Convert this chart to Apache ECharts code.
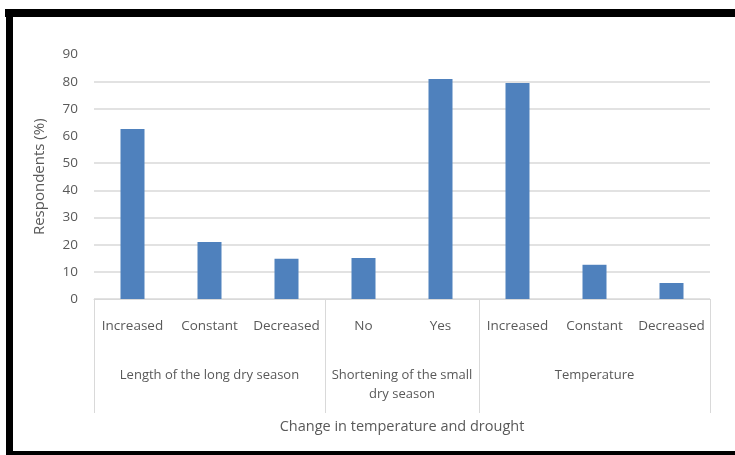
<!DOCTYPE html>
<html><head><meta charset="utf-8">
<script src="https://cdn.jsdelivr.net/npm/echarts@6/dist/echarts.min.js"></script>
<style>html,body{margin:0;padding:0;background:#fff}#c{width:735px;height:455px}</style>
</head><body><div id="c"></div>
<script>
const categories = ['Increased','Constant','Decreased','No','Yes','Increased','Constant','Decreased'];
const values = [62.6, 21.0, 14.8, 15.1, 81.0, 79.5, 12.6, 5.9];
const groupNames = ['Length of the long dry season','Shortening of the small\ndry season','Temperature'];
const groupBounds = [0, 3, 5, 8];
const groupCenters = [1.5, 4, 6.5];
const yTicks = [0,10,20,30,40,50,60,70,80,90];
const hiddenGridValues = [60, 90];

const FONT = '"Open Sans", sans-serif';
const TXT = '#595959';
const GRID = '#d9d9d9';

const chart = echarts.init(document.getElementById('c'), null, {renderer:'canvas'});
chart.setOption({
  animation:false,
  backgroundColor:'#fff',
  grid:{left:94, right:25, top:54.5, bottom:156, containLabel:false},
  xAxis:[{
    type:'category', data:categories, position:'bottom',
    axisLine:{show:true, lineStyle:{color:GRID, width:1}},
    axisTick:{show:false},
    axisLabel:{color:TXT, fontFamily:FONT, fontSize:13.5, margin:20, interval:0},
    name:'Change in temperature and drought', nameLocation:'middle', nameGap:120,
    nameTextStyle:{color:TXT, fontFamily:FONT, fontSize:14.5}
  },{
    type:'value', min:0, max:8, position:'bottom',
    axisLine:{show:false},
    splitLine:{show:false},
    axisTick:{show:true, inside:false, length:114, customValues:groupBounds, lineStyle:{color:GRID, width:1}},
    axisLabel:{show:true, customValues:groupCenters, margin:67, color:TXT, fontFamily:FONT, fontSize:13,
      lineHeight:19, verticalAlign:'top',
      formatter:function(v){ const i = groupCenters.indexOf(v); return i>=0 ? groupNames[i] : ''; }}
  }],
  yAxis:{
    type:'value', min:0, max:90, interval:10,
    axisLine:{show:false}, axisTick:{show:false},
    axisLabel:{color:TXT, fontFamily:FONT, fontSize:13.5, margin:16},
    splitLine:{show:true, lineStyle:{width:1.5, color: yTicks.map(v => hiddenGridValues.indexOf(v)>=0 ? 'rgba(0,0,0,0)' : GRID)}},
    name:'Respondents (%)', nameLocation:'middle', nameGap:47,
    nameTextStyle:{color:TXT, fontFamily:FONT, fontSize:15}
  },
  series:[{
    type:'bar', data:values, xAxisIndex:0, barWidth:24,
    itemStyle:{color:'#4f81bd'}
  }],
  graphic:[
    {type:'rect', shape:{x:5, y:9, width:730, height:8}, style:{fill:'#000'}},
    {type:'rect', shape:{x:6, y:9, width:7, height:446}, style:{fill:'#000'}},
    {type:'rect', shape:{x:6, y:451, width:729, height:4}, style:{fill:'#000'}}
  ]
});
</script></body></html>
